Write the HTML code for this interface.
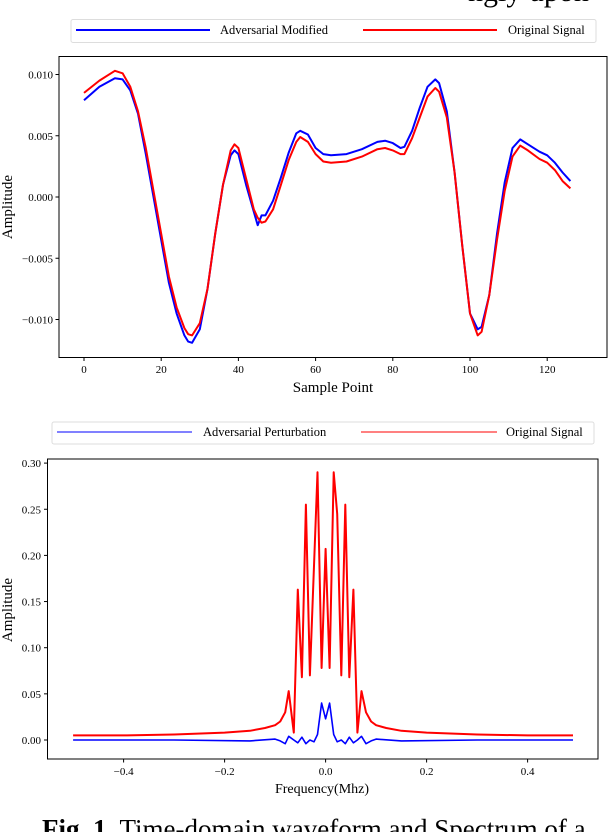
<!DOCTYPE html>
<html><head><meta charset="utf-8">
<style>
html,body{margin:0;padding:0;background:#fff;width:608px;height:832px;overflow:hidden;font-family:"Liberation Serif",serif;}
svg text{font-family:"Liberation Serif",serif;}
</style></head>
<body>
<svg id="fig" width="608" height="832" viewBox="0 0 608 832" xmlns="http://www.w3.org/2000/svg">
<text x="468" y="1" font-size="30">ngly upon</text>
<g id="top"></g>
<g id="bot"></g>
<text x="42" y="838" font-size="27"><tspan font-weight="bold">Fig. 1.</tspan> Time-domain waveform and Spectrum of a</text>
</svg>
<script>
// ---- Top chart data (amplitude x1e-3) ----
const timeIdx=[0,4,8,10,12,14,16,18,20,22,24,26,27,28,30,32,34,36,38,39,40,42,44,45,46,47,49,51,53,55,56,58,60,62,64,68,72,76,78,80,82,83,85,87,89,91,92,94,96,98,100,102,103,105,107,109,111,113,115,118,120,122,124,126];
const modifiedVals=[7.9,9.0,9.7,9.6,8.7,6.8,3.5,0,-3.5,-7.0,-9.5,-11.3,-11.8,-11.9,-10.8,-7.5,-3.0,1.0,3.4,3.8,3.5,1.0,-1.2,-2.3,-1.5,-1.5,-0.3,1.6,3.6,5.2,5.4,5.1,4.0,3.5,3.4,3.5,3.9,4.5,4.6,4.4,4.0,4.1,5.4,7.3,9.0,9.6,9.3,7.0,2.0,-4.0,-9.5,-10.8,-10.6,-8.0,-3.0,1.2,4.0,4.7,4.3,3.7,3.4,2.8,2.0,1.3];
const originalVals=[8.5,9.5,10.3,10.1,9.0,7.0,4.0,0.5,-3.0,-6.5,-9.0,-10.7,-11.2,-11.3,-10.3,-7.5,-3.0,1.0,3.8,4.3,4.0,1.5,-1.0,-1.7,-2.1,-2.0,-1.0,1.0,3.0,4.5,4.9,4.5,3.5,2.9,2.8,2.9,3.3,3.9,4.0,3.8,3.5,3.5,4.8,6.5,8.2,8.9,8.6,6.5,2.0,-4.0,-9.5,-11.3,-11.0,-8.0,-3.5,0.5,3.3,4.2,3.8,3.1,2.8,2.2,1.3,0.7];
const topXTicks=[0,20,40,60,80,100,120];
const topYTicks=[-10,-5,0,5,10];
const topYLabels=["\u22120.010","\u22120.005","0.000","0.005","0.010"];
// ---- Bottom chart data ----
const freqX=[-0.5,-0.4,-0.3,-0.2,-0.15,-0.12,-0.1,-0.09,-0.08,-0.073,-0.063,-0.055,-0.047,-0.039,-0.031,-0.016,-0.008,0.0,0.008,0.016,0.023,0.031,0.039,0.047,0.055,0.063,0.071,0.08,0.09,0.1,0.12,0.15,0.2,0.3,0.4,0.49];
const origSpec=[0.005,0.005,0.006,0.008,0.010,0.013,0.016,0.020,0.030,0.053,0.008,0.163,0.068,0.255,0.070,0.290,0.078,0.207,0.078,0.290,0.245,0.070,0.255,0.068,0.163,0.008,0.053,0.030,0.020,0.016,0.013,0.010,0.008,0.006,0.005,0.005];
const pertX=[-0.5,-0.3,-0.15,-0.1,-0.09,-0.08,-0.073,-0.063,-0.055,-0.047,-0.039,-0.031,-0.023,-0.016,-0.008,0.0,0.008,0.016,0.023,0.031,0.039,0.047,0.055,0.063,0.071,0.08,0.09,0.1,0.15,0.3,0.49];
const pertVals=[0.0,0.0,-0.001,0.001,-0.001,-0.004,0.004,0.0,-0.003,0.003,-0.004,0.0,-0.002,0.006,0.040,0.023,0.040,0.006,-0.002,0.0,-0.004,0.003,-0.003,0.0,0.004,-0.004,-0.001,0.001,-0.001,0.0,0.0];
const botXTicks=[-0.4,-0.2,0.0,0.2,0.4];
const botXLabels=["\u22120.4","\u22120.2","0.0","0.2","0.4"];
const botYTicks=[0,0.05,0.1,0.15,0.2,0.25,0.3];
const botYLabels=["0.00","0.05","0.10","0.15","0.20","0.25","0.30"];

const NS="http://www.w3.org/2000/svg";
function mk(p,tag,at){const e=document.createElementNS(NS,tag);for(const k in at)e.setAttribute(k,at[k]);p.appendChild(e);return e;}

// top axes
const T=document.getElementById('top');
const tx=v=>84+v*3.86, ty=v=>197-v*12.25;
let r=mk(T,'rect',{x:59,y:56.5,width:548,height:301,fill:'none',stroke:'#000','stroke-width':1});


topXTicks.forEach(v=>{
 const l=mk(T,'line',{x1:tx(v),x2:tx(v),y1:357.5,y2:361,stroke:'#000'});
 
 
 const t=mk(T,'text',{x:tx(v),y:373,'font-size':11,'text-anchor':'middle'});t.textContent=v;
 
 
});
topYTicks.forEach((v,i)=>{
 const l=mk(T,'line',{x1:55.5,x2:59,y1:ty(v),y2:ty(v),stroke:'#000'});
 
 
 const t=mk(T,'text',{x:53,y:ty(v)+4,'font-size':11,'text-anchor':'end'});t.textContent=topYLabels[i];
 
 
});
let xl=mk(T,'text',{x:333,y:392,'font-size':15,'text-anchor':'middle'});xl.textContent='Sample Point';


let yl=mk(T,'text',{x:12,y:207,'font-size':15,'text-anchor':'middle',transform:'rotate(-90 12 207)'});yl.textContent='Amplitude';


function poly(p,xs,ys,fx,fy,col,w,name){
 const pl=mk(p,'polyline',{points:xs.map((x,i)=>fx(x).toFixed(1)+','+fy(ys[i]).toFixed(1)).join(' '),fill:'none',stroke:col,'stroke-width':w,'stroke-linejoin':'round'});
 
 
}
poly(T,timeIdx,modifiedVals,tx,ty,'#0000ff',2,'adversarial-modified-line');
poly(T,timeIdx,originalVals,tx,ty,'#ff0000',2,'original-signal-line');
// top legend
let lg=mk(T,'rect',{x:71,y:19.5,width:525,height:23,fill:'#fff',stroke:'#ddd',rx:2});


let l1=mk(T,'line',{x1:76,x2:210,y1:30,y2:30,stroke:'#0000ff','stroke-width':2});


let t1=mk(T,'text',{x:220,y:34,'font-size':12.5});t1.textContent='Adversarial Modified';


let l2=mk(T,'line',{x1:363,x2:497,y1:30,y2:30,stroke:'#ff0000','stroke-width':2});


let t2=mk(T,'text',{x:508,y:34,'font-size':12.5});t2.textContent='Original Signal';



// bottom axes
const B=document.getElementById('bot');
const bx=v=>325.6+v*505, by=v=>740-v*923;
r=mk(B,'rect',{x:47.5,y:459,width:550.5,height:300,fill:'none',stroke:'#000','stroke-width':1});


botXTicks.forEach((v,i)=>{
 const l=mk(B,'line',{x1:bx(v),x2:bx(v),y1:759,y2:762.5,stroke:'#000'});
 
 
 const t=mk(B,'text',{x:bx(v),y:775,'font-size':11,'text-anchor':'middle'});t.textContent=botXLabels[i];
 
 
});
botYTicks.forEach((v,i)=>{
 const l=mk(B,'line',{x1:44,x2:47.5,y1:by(v),y2:by(v),stroke:'#000'});
 
 
 const t=mk(B,'text',{x:41,y:by(v)+4,'font-size':11,'text-anchor':'end'});t.textContent=botYLabels[i];
 
 
});
xl=mk(B,'text',{x:322,y:793,'font-size':14,'text-anchor':'middle'});xl.textContent='Frequency(Mhz)';


yl=mk(B,'text',{x:12,y:610,'font-size':15,'text-anchor':'middle',transform:'rotate(-90 12 610)'});yl.textContent='Amplitude';


poly(B,freqX,origSpec,bx,by,'#ff0000',2,'original-spectrum-line');
poly(B,pertX,pertVals,bx,by,'#0000ff',1.6,'perturbation-spectrum-line');
lg=mk(B,'rect',{x:52,y:422,width:542,height:22,fill:'#fff',stroke:'#ddd',rx:2});


l1=mk(B,'line',{x1:57,x2:192,y1:432,y2:432,stroke:'#0000ff','stroke-width':1});


t1=mk(B,'text',{x:203,y:436,'font-size':12.5});t1.textContent='Adversarial Perturbation';


l2=mk(B,'line',{x1:361,x2:497,y1:432,y2:432,stroke:'#ff0000','stroke-width':1});


t2=mk(B,'text',{x:506,y:436,'font-size':12.5});t2.textContent='Original Signal';


</script>
</body></html>
